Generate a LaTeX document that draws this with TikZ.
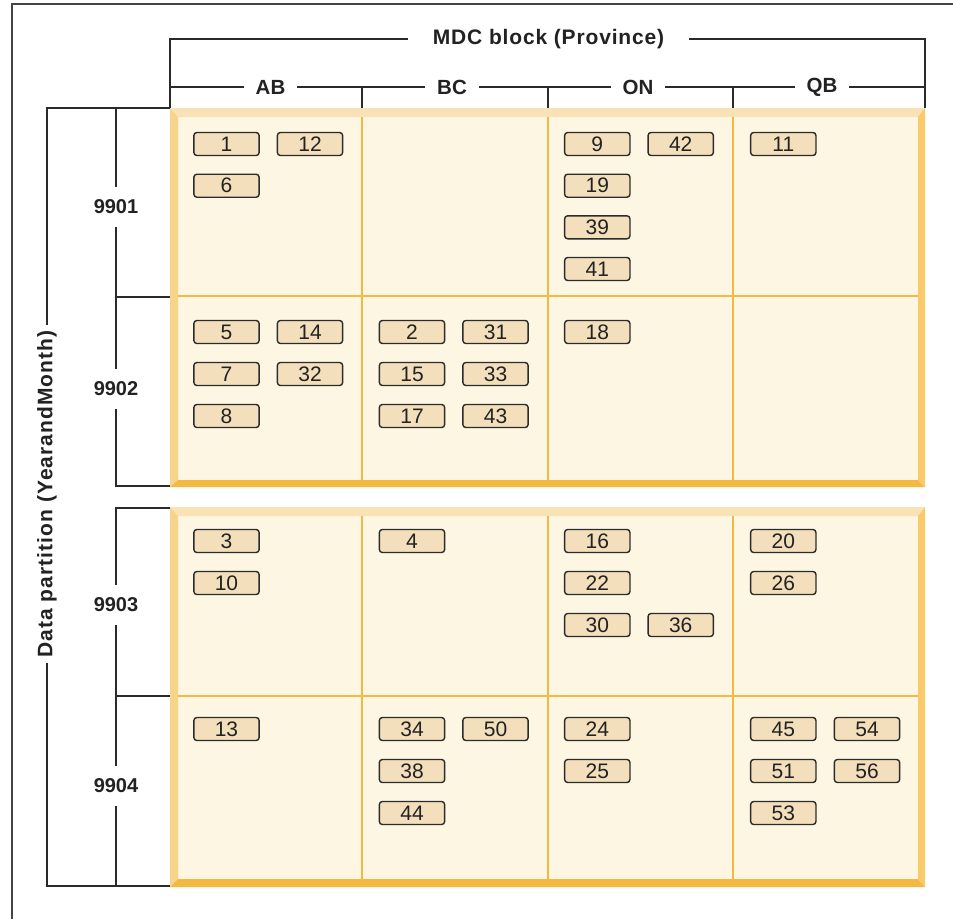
\documentclass[tikz,border=0pt]{standalone}
\usepackage{fontspec}
\setmainfont{Liberation Sans}
\definecolor{bevtop}{HTML}{F8E2B6}
\definecolor{bevleft}{HTML}{F8D48B}
\definecolor{bevbot}{HTML}{F4B942}
\definecolor{bevright}{HTML}{F8CA6A}
\definecolor{inside}{HTML}{FDF6E3}
\definecolor{divc}{HTML}{F4B942}
\definecolor{boxfill}{HTML}{F3DFBB}
\definecolor{boxline}{HTML}{2B2B2B}
\definecolor{txt}{HTML}{222222}
\definecolor{brkc}{HTML}{2A2A2A}
\definecolor{framec}{HTML}{444444}
\newcommand\drawpanel[4]{%
  \fill[inside] (178,#3) rectangle (918,#4);
  \fill[bevtop] (170,#1) -- (925,#1) -- (918,#3) -- (178,#3) -- cycle;
  \fill[bevleft] (170,#1) -- (178,#3) -- (178,#4) -- (170,#2) -- cycle;
  \fill[bevbot] (170,#2) -- (178,#4) -- (918,#4) -- (925,#2) -- cycle;
  \fill[bevright] (925,#1) -- (925,#2) -- (918,#4) -- (918,#3) -- cycle;
  \foreach \xx in {362,548,733} \draw[divc, line width=2pt] (\xx,#3) -- (\xx,#4);
}
\tikzset{
  blk/.style={draw=boxline, fill=boxfill, line width=1.4pt, rounded corners=3pt,
    minimum width=65.3pt, minimum height=23pt, inner sep=0pt,
    font=\fontsize{21}{21}\selectfont, text=txt},
  hdr/.style={fill=white, inner sep=0pt, inner xsep=12pt, minimum height=18pt,
    font=\fontsize{20.5}{22}\selectfont\bfseries, text=txt},
  rowlbl/.style={fill=white, inner sep=0pt, minimum height=40pt, minimum width=10pt,
    font=\fontsize{20}{22}\selectfont\bfseries, text=txt},
  brk/.style={line width=1.6pt, draw=brkc},
}
\begin{document}
\begin{tikzpicture}[x=1pt,y=-1pt]
\useasboundingbox[fill=white] (0,0) rectangle (953,919);
% outer frame
\draw[line width=1.5pt, framec] (12,919) -- (12,4) -- (953,4);
% panels
\drawpanel{108}{487}{117}{480}
\draw[divc, line width=2pt] (178,296) -- (918,296);
\drawpanel{507}{887}{516}{879}
\draw[divc, line width=2pt] (178,696) -- (918,696);
% top brackets
\draw[brk] (170,108) -- (170,39) -- (925,39) -- (925,108);
\draw[brk] (170,87) -- (925,87);
\foreach \xx in {362,548,733} \draw[brk] (\xx,87) -- (\xx,108);
\node[hdr, inner xsep=25pt, font=\fontsize{21}{22}\selectfont\bfseries\addfontfeature{LetterSpace=4}] (mdc) at (548.5,39) {MDC block (Province)};
\node[hdr] (ab) at (270.5,87) {AB};
\node[hdr] (bc) at (452,87) {BC};
\node[hdr] (on) at (638,87) {ON};
\node[hdr] (qb) at (822,87) {QB};
% left brackets
\draw[brk] (170,108) -- (47,108) -- (47,886) -- (170,886);
\draw[brk] (116,108) -- (116,486) -- (170,486);
\draw[brk] (170,508) -- (116,508) -- (116,886);
\draw[brk] (116,297) -- (170,297);
\draw[brk] (116,696) -- (170,696);
\node[hdr, rotate=90, inner xsep=5pt, font=\fontsize{21}{22}\selectfont\bfseries\addfontfeature{LetterSpace=5}] (dp) at (47,494) {Data partition (YearandMonth)};
\node[rowlbl] (r1) at (116,207) {9901};
\node[rowlbl] (r2) at (116,389) {9902};
\node[rowlbl] (r3) at (116,605) {9903};
\node[rowlbl] (r4) at (116,786) {9904};
% blocks 9901
\node[blk] (b1) at (226.5,144) {1};
\node[blk] (b12) at (310,144) {12};
\node[blk] (b6) at (226.5,185.7) {6};
\node[blk] (b9) at (597.3,144) {9};
\node[blk] (b42) at (680.7,144) {42};
\node[blk] (b19) at (597.3,185.7) {19};
\node[blk] (b39) at (597.3,227.3) {39};
\node[blk] (b41) at (597.3,269) {41};
\node[blk] (b11) at (783.3,144) {11};
% blocks 9902
\node[blk] (b5) at (226.5,332) {5};
\node[blk] (b14) at (310,332) {14};
\node[blk] (b7) at (226.5,374) {7};
\node[blk] (b32) at (310,374) {32};
\node[blk] (b8) at (226.5,416) {8};
\node[blk] (b2) at (412,332) {2};
\node[blk] (b31) at (495.5,332) {31};
\node[blk] (b15) at (412,374) {15};
\node[blk] (b33) at (495.5,374) {33};
\node[blk] (b17) at (412,416) {17};
\node[blk] (b43) at (495.5,416) {43};
\node[blk] (b18) at (597.3,332) {18};
% blocks 9903
\node[blk] (b3) at (226.5,541) {3};
\node[blk] (b10) at (226.5,583) {10};
\node[blk] (b4) at (412,541) {4};
\node[blk] (b16) at (597.3,541) {16};
\node[blk] (b22) at (597.3,583) {22};
\node[blk] (b30) at (597.3,625) {30};
\node[blk] (b36) at (680.7,625) {36};
\node[blk] (b20) at (783.3,541) {20};
\node[blk] (b26) at (783.3,583) {26};
% blocks 9904
\node[blk] (b13) at (226.5,729) {13};
\node[blk] (b34) at (412,729) {34};
\node[blk] (b50) at (495.5,729) {50};
\node[blk] (b38) at (412,771) {38};
\node[blk] (b44) at (412,813) {44};
\node[blk] (b24) at (597.3,729) {24};
\node[blk] (b25) at (597.3,771) {25};
\node[blk] (b45) at (783.3,729) {45};
\node[blk] (b54) at (867,729) {54};
\node[blk] (b51) at (783.3,771) {51};
\node[blk] (b56) at (867,771) {56};
\node[blk] (b53) at (783.3,813) {53};
\end{tikzpicture}
\end{document}
